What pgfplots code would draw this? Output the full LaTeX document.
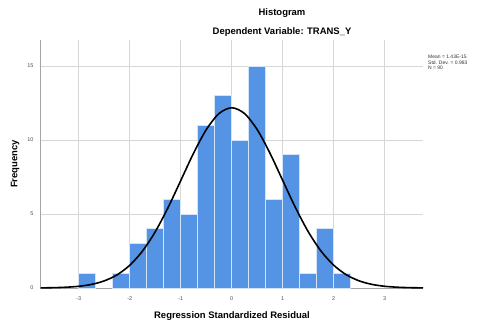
\documentclass[border=0pt]{standalone}
\usepackage{pgfplots}
\pgfplotsset{compat=1.18}
\usepackage{fontspec}
\setmainfont{Liberation Sans}
\definecolor{barblue}{RGB}{85,148,228}
\definecolor{gridgray}{RGB}{215,215,215}
\definecolor{axgray}{RGB}{165,165,165}
\begin{document}
\begin{tikzpicture}
\path[use as bounding box] (-40bp,-37bp) rectangle (444bp,288bp);
\begin{axis}[
  at={(0,0)}, anchor=south west,
  scale only axis,
  width=383bp, height=248bp,
  xmin=-3.76, xmax=3.75,
  ymin=0, ymax=16.76,
  axis lines=left,
  axis line style={-, draw=axgray, line width=1pt},
  xtick={-3,-2,-1,0,1,2,3},
  ytick={0,5,10,15},
  grid=major,
  major grid style={draw=gridgray, line width=0.8pt},
  tick style={draw=none},
  /pgf/number format/assume math mode=true,
  ticklabel style={font=\fontsize{5.5}{6}\selectfont, text=black!70},
  xticklabel style={yshift=-3bp},
  yticklabel style={xshift=-1bp},
  clip=false,
  axis on top=false,
]
\addplot[ybar interval, fill=barblue, draw=white!75!barblue, line width=0.7pt]
  coordinates {(-3,1) (-2.6667,1)};
\addplot[ybar interval, fill=barblue, draw=white!75!barblue, line width=0.7pt]
  coordinates {(-2.3333,1) (-2,3) (-1.6667,4) (-1.3333,6) (-1,5) (-0.6667,11)
  (-0.3333,13) (0,10) (0.3333,15) (0.6667,6) (1,9) (1.3333,1) (1.6667,4)
  (2,1) (2.3333,1)};
\addplot[smooth, black, line width=1.6pt] coordinates {
  (-3.75,0.0084) (-3.5,0.0215) (-3.25,0.0516) (-3.0,0.1157) (-2.75,0.2435)
  (-2.5,0.480) (-2.25,0.887) (-2.0,1.537) (-1.75,2.497) (-1.5,3.802)
  (-1.25,5.426) (-1.0,7.261) (-0.75,9.105) (-0.5,10.70) (-0.25,11.79)
  (0,12.18)
  (0.25,11.79) (0.5,10.70) (0.75,9.105) (1.0,7.261) (1.25,5.426)
  (1.5,3.802) (1.75,2.497) (2.0,1.537) (2.25,0.887) (2.5,0.480)
  (2.75,0.2435) (3.0,0.1157) (3.25,0.0516) (3.5,0.0215) (3.75,0.0084)};
\end{axis}
\node[anchor=base, font=\fontsize{9.5}{11}\selectfont\bfseries] at (242bp,272bp) {Histogram};
\node[anchor=base, font=\fontsize{9.5}{11}\selectfont\bfseries] at (242bp,253bp) {Dependent Variable: TRANS\_Y};
\node[anchor=base, font=\fontsize{9.5}{11}\selectfont\bfseries] at (192bp,-30bp) {Regression Standardized Residual};
\node[rotate=90, font=\fontsize{9.5}{11}\selectfont\bfseries] at (-25bp,124bp) {Frequency};
\node[anchor=north west, align=left, inner sep=0pt, font=\fontsize{5}{5.6}\selectfont, text=black!80] at (388bp,233bp) {Mean = 1.43E-15\\Std. Dev. = 0.983\\N = 90};
\end{tikzpicture}
\end{document}
